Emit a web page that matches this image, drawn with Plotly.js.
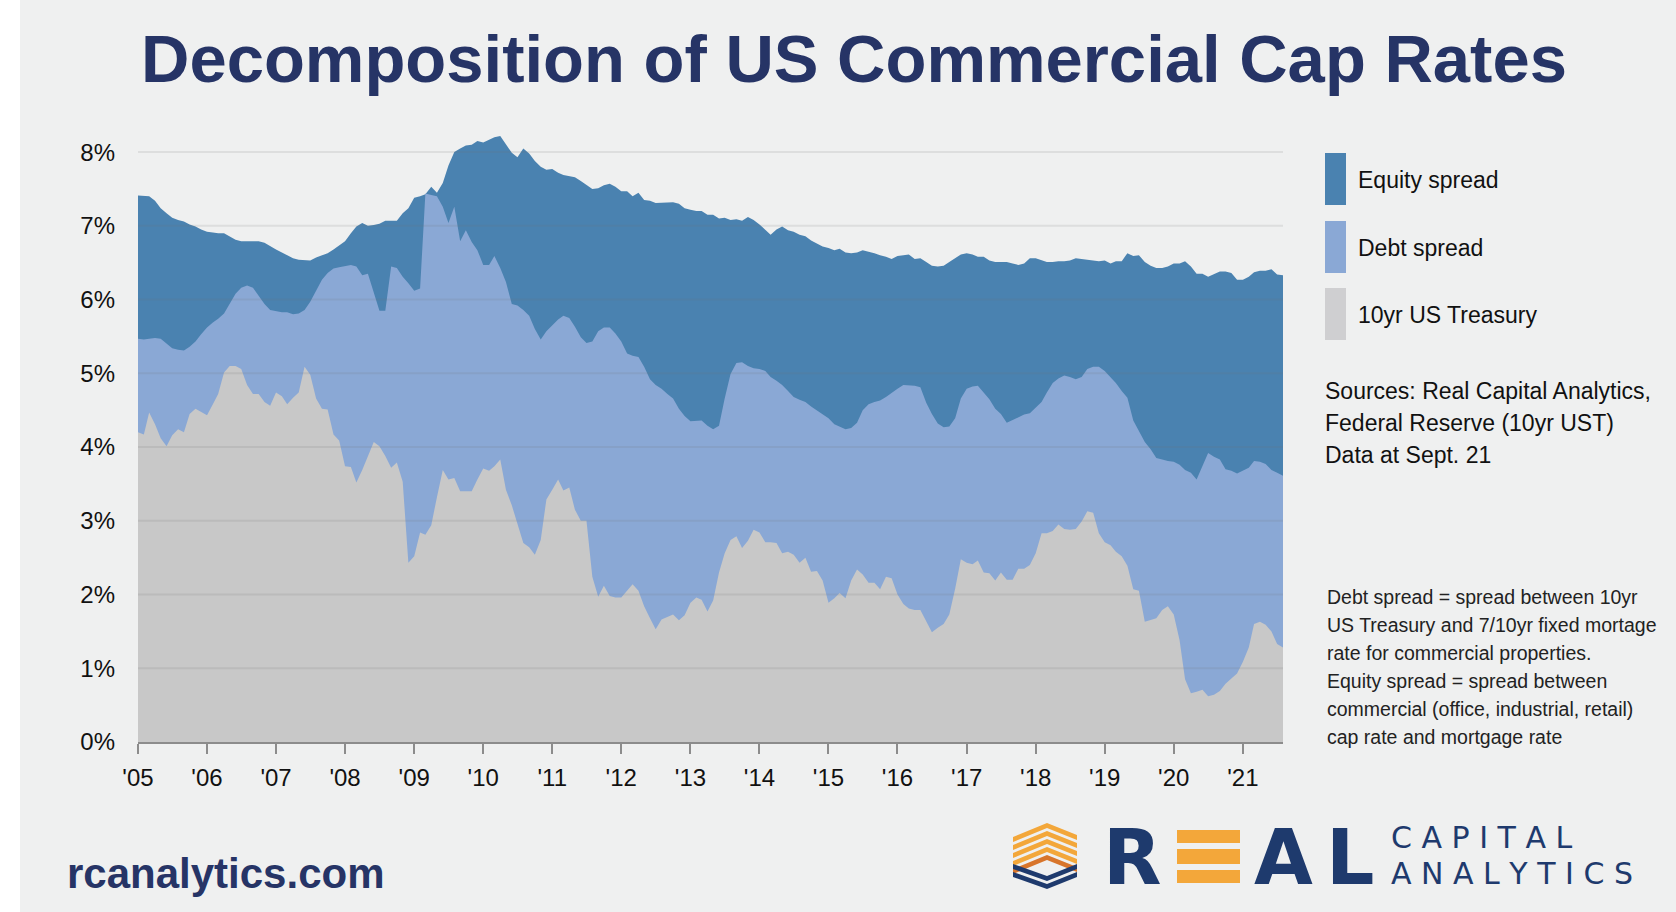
<!DOCTYPE html>
<html><head><meta charset="utf-8">
<script src="https://cdn.plot.ly/plotly-3.0.1.min.js"></script>
<style>html,body{margin:0;padding:0;background:#eff0f0;overflow:hidden}</style>
</head><body><div id="chart" style="width:1676px;height:912px"></div>
<script>
// Monthly observations, Jan 2005 - Aug 2021 (values in %)
const firstYear = 2005;
const treasury10y = [
 4.20,4.17,4.47,4.31,4.12,4.01,4.16,4.24,4.20,4.45,4.52,4.47,
 4.43,4.58,4.72,5.01,5.10,5.10,5.06,4.84,4.72,4.72,4.61,4.56,
 4.74,4.69,4.58,4.67,4.74,5.09,4.98,4.66,4.52,4.51,4.17,4.09,
 3.74,3.73,3.52,3.69,3.88,4.07,4.01,3.88,3.72,3.79,3.53,2.43,
 2.52,2.84,2.81,2.94,3.32,3.69,3.56,3.58,3.40,3.40,3.40,3.56,
 3.71,3.68,3.74,3.83,3.42,3.21,2.95,2.70,2.64,2.54,2.74,3.29,
 3.42,3.56,3.41,3.45,3.15,3.00,3.00,2.24,1.97,2.12,1.98,1.96,
 1.96,2.05,2.14,2.05,1.84,1.68,1.53,1.66,1.70,1.73,1.65,1.72,
 1.89,1.96,1.93,1.77,1.92,2.30,2.56,2.74,2.79,2.63,2.73,2.88,
 2.84,2.71,2.71,2.70,2.56,2.58,2.54,2.43,2.50,2.31,2.32,2.19,
 1.89,1.95,2.02,1.95,2.19,2.34,2.27,2.16,2.16,2.07,2.24,2.22,
 2.00,1.87,1.81,1.79,1.79,1.63,1.49,1.55,1.60,1.73,2.08,2.48,
 2.43,2.41,2.46,2.30,2.29,2.19,2.30,2.20,2.20,2.35,2.35,2.40,
 2.56,2.83,2.83,2.86,2.95,2.89,2.88,2.89,2.99,3.13,3.11,2.83,
 2.71,2.67,2.58,2.52,2.39,2.07,2.05,1.63,1.66,1.68,1.79,1.84,
 1.73,1.38,0.85,0.66,0.68,0.71,0.62,0.64,0.69,0.79,0.86,0.93,
 1.09,1.28,1.60,1.63,1.59,1.50,1.33,1.28
];
// Top of the debt spread band (7/10yr fixed mortgage rate)
const mortgageRate = [
 5.47,5.46,5.47,5.48,5.47,5.41,5.34,5.32,5.31,5.36,5.43,5.53,
 5.62,5.69,5.74,5.81,5.94,6.08,6.16,6.19,6.16,6.06,5.94,5.86,
 5.84,5.83,5.83,5.80,5.81,5.86,5.97,6.12,6.27,6.36,6.42,6.44,
 6.45,6.47,6.45,6.33,6.35,6.11,5.85,5.85,6.45,6.43,6.31,6.22,
 6.12,6.15,7.44,7.42,7.40,7.26,7.04,7.26,6.79,6.94,6.78,6.67,
 6.47,6.47,6.59,6.43,6.24,5.94,5.92,5.86,5.78,5.60,5.46,5.57,
 5.65,5.73,5.78,5.75,5.63,5.49,5.41,5.43,5.57,5.62,5.62,5.54,
 5.43,5.27,5.24,5.22,5.09,4.92,4.84,4.79,4.72,4.66,4.52,4.42,
 4.35,4.35,4.36,4.29,4.24,4.29,4.66,4.99,5.14,5.15,5.10,5.07,
 5.06,5.03,4.95,4.90,4.84,4.76,4.68,4.64,4.61,4.55,4.50,4.44,
 4.39,4.31,4.28,4.24,4.26,4.33,4.50,4.58,4.61,4.63,4.68,4.74,
 4.79,4.84,4.84,4.83,4.81,4.60,4.45,4.32,4.27,4.28,4.39,4.66,
 4.79,4.82,4.83,4.74,4.65,4.52,4.45,4.33,4.37,4.40,4.44,4.46,
 4.54,4.61,4.74,4.87,4.93,4.97,4.95,4.92,4.95,5.06,5.09,5.09,
 5.03,4.95,4.87,4.76,4.67,4.36,4.22,4.07,3.97,3.85,3.83,3.81,
 3.80,3.76,3.69,3.65,3.56,3.74,3.92,3.87,3.83,3.70,3.68,3.64,
 3.68,3.72,3.81,3.80,3.77,3.69,3.65,3.61
];
// Top of the equity spread band (commercial cap rate)
const capRate = [
 7.41,7.40,7.40,7.34,7.24,7.17,7.11,7.08,7.06,7.02,6.99,6.95,
 6.92,6.91,6.90,6.90,6.86,6.81,6.79,6.79,6.79,6.79,6.77,6.72,
 6.68,6.64,6.60,6.56,6.54,6.53,6.53,6.57,6.60,6.63,6.68,6.74,
 6.79,6.90,6.99,7.04,7.00,7.01,7.03,7.07,7.07,7.07,7.17,7.24,
 7.38,7.40,7.43,7.53,7.45,7.58,7.82,8.00,8.05,8.09,8.10,8.15,
 8.13,8.17,8.20,8.22,8.11,7.99,7.93,8.05,7.98,7.88,7.80,7.76,
 7.77,7.72,7.69,7.67,7.66,7.61,7.56,7.50,7.51,7.55,7.57,7.53,
 7.47,7.47,7.40,7.45,7.35,7.34,7.31,7.31,7.31,7.32,7.30,7.24,
 7.22,7.20,7.20,7.15,7.15,7.10,7.11,7.08,7.09,7.07,7.12,7.08,
 7.02,6.94,6.88,6.95,6.99,6.94,6.92,6.88,6.86,6.80,6.76,6.72,
 6.70,6.67,6.69,6.64,6.63,6.64,6.67,6.65,6.63,6.60,6.58,6.55,
 6.59,6.60,6.61,6.55,6.56,6.51,6.46,6.45,6.46,6.51,6.56,6.61,
 6.63,6.61,6.58,6.58,6.53,6.51,6.51,6.51,6.49,6.47,6.49,6.56,
 6.56,6.53,6.51,6.51,6.52,6.52,6.53,6.56,6.55,6.55,6.53,6.52,
 6.53,6.49,6.52,6.52,6.63,6.59,6.60,6.51,6.46,6.43,6.43,6.45,
 6.49,6.49,6.52,6.45,6.35,6.35,6.31,6.35,6.38,6.38,6.36,6.27,
 6.27,6.31,6.37,6.39,6.39,6.41,6.34,6.33
];
const seriesNames = ['Equity spread', 'Debt spread', '10yr US Treasury'];
const yearTickText = ["'05","'06","'07","'08","'09","'10","'11","'12","'13","'14","'15","'16","'17","'18","'19","'20","'21"];
const yTickVals = [0,1,2,3,4,5,6,7,8];
const yTickText = ['0%','1%','2%','3%','4%','5%','6%','7%','8%'];
const sourceLines = ['Sources: Real Capital Analytics,', 'Federal Reserve (10yr UST)', 'Data at Sept. 21'];
const noteLines = ['Debt spread = spread between 10yr', 'US Treasury and 7/10yr fixed mortage',
  'rate for commercial properties.', 'Equity spread = spread between',
  'commercial (office, industrial, retail)', 'cap rate and mortgage rate'];

const W = 1676, H = 912;
const px = x => x / W, py = y => (H - y) / H;

const months = treasury10y.map((_, i) => {
  const yr = firstYear + Math.floor(i / 12), m = (i % 12) + 1;
  return yr + '-' + (m < 10 ? '0' + m : m) + '-01';
});
const yearTickVals = yearTickText.map((_, i) => (firstYear + i) + '-01-01');

const colEquity = '#4a82b0', colDebt = '#8aa8d5', colTsy = '#c8c8c8', colTsySw = '#cfcfd1';
const navy = '#263466', logoNavy = '#1e3a6d', orange = '#f3a73a', darkOrange = '#d8752b';
const FONT = 'Liberation Sans, Arial, sans-serif';

const traces = [
  {x: months, y: capRate, name: seriesNames[0], type: 'scatter', mode: 'lines', fill: 'tozeroy',
   fillcolor: colEquity, line: {width: 0, color: colEquity}, hoverinfo: 'skip'},
  {x: months, y: mortgageRate, name: seriesNames[1], type: 'scatter', mode: 'lines', fill: 'tozeroy',
   fillcolor: colDebt, line: {width: 0, color: colDebt}, hoverinfo: 'skip'},
  {x: months, y: treasury10y, name: seriesNames[2], type: 'scatter', mode: 'lines', fill: 'tozeroy',
   fillcolor: colTsy, line: {width: 0, color: colTsy}, hoverinfo: 'skip'}
];

const shapes = [];
const annotations = [];
// white strip at left edge
shapes.push({type: 'rect', xref: 'paper', yref: 'paper', x0: 0, x1: px(20), y0: 0, y1: 1,
  fillcolor: '#ffffff', line: {width: 0}, layer: 'below'});
// gridlines over fills
yTickVals.slice(1).forEach(v => shapes.push({type: 'line', xref: 'paper', yref: 'y',
  x0: px(138), x1: px(1283), y0: v, y1: v, line: {color: 'rgba(110,110,110,0.14)', width: 2}, layer: 'above'}));

// Title
annotations.push({text: '<b>Decomposition of US Commercial Cap Rates</b>', xref: 'paper', yref: 'paper',
  x: px(854), y: py(59), xanchor: 'center', yanchor: 'middle', showarrow: false,
  font: {family: FONT, size: 67, color: navy}});

// Legend
const swatchCols = [colEquity, colDebt, colTsySw];
const swatchTop = [153, 221, 288];
seriesNames.forEach((n, i) => {
  shapes.push({type: 'rect', xref: 'paper', yref: 'paper', x0: px(1325), x1: px(1346),
    y0: py(swatchTop[i] + 52), y1: py(swatchTop[i]), fillcolor: swatchCols[i], line: {width: 0}});
  annotations.push({text: n, xref: 'paper', yref: 'paper', x: px(1356), y: py(swatchTop[i] + 27),
    xanchor: 'left', yanchor: 'middle', showarrow: false, font: {family: FONT, size: 23, color: '#111'}});
});
sourceLines.forEach((t, i) => annotations.push({text: t, xref: 'paper', yref: 'paper',
  x: px(1323), y: py(391 + 32 * i), xanchor: 'left', yanchor: 'middle', showarrow: false,
  font: {family: FONT, size: 23, color: '#111'}}));
noteLines.forEach((t, i) => annotations.push({text: t, xref: 'paper', yref: 'paper',
  x: px(1325), y: py(597 + 28 * i), xanchor: 'left', yanchor: 'middle', showarrow: false,
  font: {family: FONT, size: 19.5, color: '#222'}}));

// Footer website
annotations.push({text: '<b>rcanalytics.com</b>', xref: 'paper', yref: 'paper', x: px(65), y: py(873),
  xanchor: 'left', yanchor: 'middle', showarrow: false, font: {family: FONT, size: 42, color: navy}});

// Logo icon (chevrons)
function poly(pts) {
  return 'M ' + pts.map(p => px(p[0]) + ' ' + py(p[1])).join(' L ') + ' Z';
}
[823, 831, 839, 847].forEach(a => shapes.push({type: 'path', xref: 'paper', yref: 'paper',
  path: poly([[1013, a + 14], [1047, a], [1077, a + 12], [1077, a + 17], [1047, a + 5], [1013, a + 19]]),
  fillcolor: orange, line: {width: 0}}));
shapes.push({type: 'path', xref: 'paper', yref: 'paper',
  path: poly([[1013, 869], [1047, 855], [1077, 867], [1077, 872], [1047, 860], [1013, 874]]),
  fillcolor: darkOrange, line: {width: 0}});
[864, 872].forEach(b => shapes.push({type: 'path', xref: 'paper', yref: 'paper',
  path: poly([[1013, b], [1047, b + 12], [1077, b], [1077, b + 5], [1047, b + 17], [1013, b + 5]]),
  fillcolor: logoNavy, line: {width: 0}}));
// Logo letters
[['R', 1132], ['A', 1283], ['L', 1350]].forEach(l => annotations.push({text: '<b>' + l[0] + '</b>',
  xref: 'paper', yref: 'paper', x: px(l[1]), y: py(857), xanchor: 'center', yanchor: 'middle', showarrow: false,
  font: {family: 'DejaVu Sans, sans-serif', size: 76, color: logoNavy}}));
[[830, 843], [849, 864], [870, 883]].forEach(b => shapes.push({type: 'rect', xref: 'paper', yref: 'paper',
  x0: px(1177), x1: px(1240), y0: py(b[1]), y1: py(b[0]), fillcolor: orange, line: {width: 0}}));
annotations.push({text: 'C A P I T A L', xref: 'paper', yref: 'paper',
  x: px(1390), y: py(837), xanchor: 'left', yanchor: 'middle', showarrow: false, borderpad: 0,
  font: {family: 'DejaVu Sans, sans-serif', size: 30, color: logoNavy}});
annotations.push({text: 'A N A L Y T I C S', xref: 'paper', yref: 'paper',
  x: px(1390), y: py(873), xanchor: 'left', yanchor: 'middle', showarrow: false, borderpad: 0,
  font: {family: 'DejaVu Sans, sans-serif', size: 30, color: logoNavy}});

const layout = {
  width: W, height: H,
  margin: {l: 0, r: 0, t: 0, b: 0, pad: 0},
  paper_bgcolor: '#eff0f0', plot_bgcolor: 'rgba(0,0,0,0)',
  showlegend: false,
  xaxis: {domain: [px(138), px(1283)], type: 'date', range: [months[0], months[months.length - 1]],
    tickvals: yearTickVals, ticktext: yearTickText, showgrid: false, zeroline: false,
    showline: true, linecolor: '#8c8c8c', linewidth: 2, ticks: 'outside', ticklen: 10, tickwidth: 2,
    tickcolor: '#8c8c8c', ticklabelstandoff: 3, tickfont: {family: FONT, size: 24, color: '#111'},
    automargin: false, fixedrange: true},
  yaxis: {domain: [py(742), py(130)], range: [0, 8.3], tickvals: yTickVals, ticktext: yTickText,
    showgrid: false, zeroline: false, showline: false, ticks: '', ticklabelstandoff: 22,
    tickfont: {family: FONT, size: 24, color: '#111'}, automargin: false, fixedrange: true},
  shapes: shapes, annotations: annotations
};
Plotly.newPlot('chart', traces, layout, {displayModeBar: false, staticPlot: true});
</script></body></html>
